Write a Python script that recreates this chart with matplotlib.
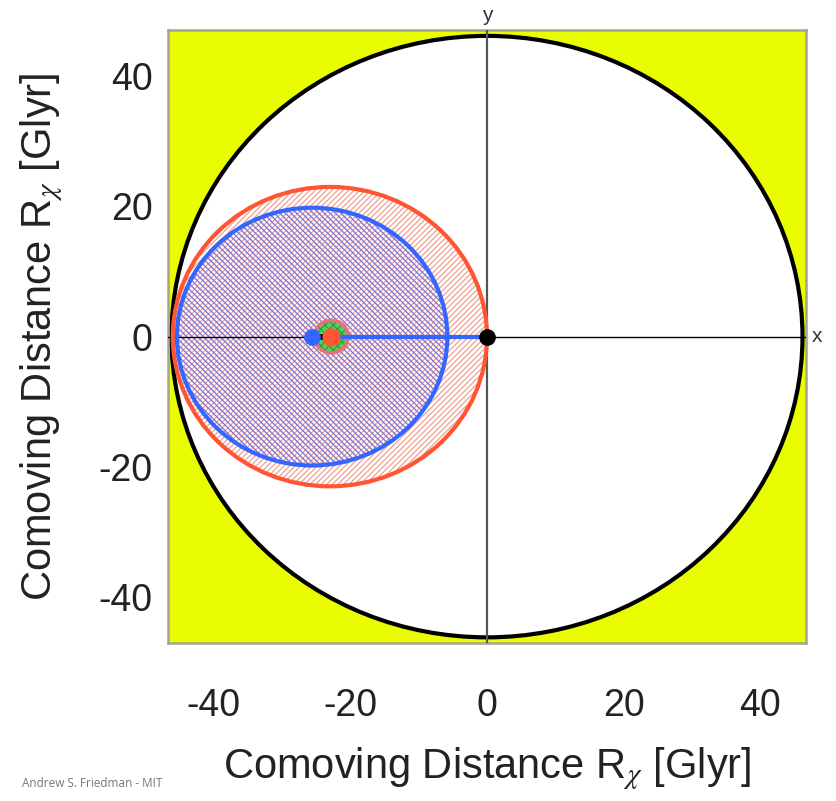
import numpy as np
import matplotlib
matplotlib.use("Agg")
import matplotlib.pyplot as plt
from matplotlib.patches import Circle

# circles: (center x, center y, radius) in Glyr
universe = (0.0, 0.0, 46.2)
red_circle = (-23.0, 0.0, 23.0)
blue_circle = (-25.6, 0.0, 19.8)
green_circle = (-22.8, 0.0, 2.5)

# points along the x axis
blue_dot = (-25.6, 0.0)
red_dot = (-22.8, 0.0)
origin = (0.0, 0.0)

ticks = [-40, -20, 0, 20, 40]
tick_labels = ["-40", "-20", "0", "20", "40"]

plt.rcParams['font.family'] = ['Liberation Sans', 'DejaVu Sans']
plt.rcParams['mathtext.fontset'] = 'stix'
plt.rcParams['hatch.linewidth'] = 0.9

fig = plt.figure(figsize=(8.36, 8.01), dpi=100)
ax = fig.add_axes([0.201, 0.197, 0.763, 0.7655])
ax.set_facecolor('#eafc00')
ax.set_xlim(-46.7, 46.7)
ax.set_ylim(-47.1, 47.1)

# big white universe circle
cx, cy, r = universe
ax.add_patch(Circle((cx, cy), r, facecolor='white', edgecolor='black', lw=3, zorder=1))

# red hatched circle
cx, cy, r = red_circle
ax.add_patch(Circle((cx, cy), r, facecolor='none', edgecolor='#f0a090', lw=0,
                    hatch='//////', zorder=2))
# blue hatched circle
bx, by, br = blue_circle
ax.add_patch(Circle((bx, by), br, facecolor='none', edgecolor='#7a6fd8', lw=0,
                    hatch='\\\\\\\\\\\\', zorder=3))

# axis lines
ax.axhline(0, color='black', lw=1.0, zorder=4)
ax.axvline(0, color='#555555', lw=1.6, zorder=4)

# outlines
ax.add_patch(Circle((cx, cy), r, facecolor='none', edgecolor='#ff5533', lw=3, zorder=5))
ax.add_patch(Circle((bx, by), br, facecolor='none', edgecolor='#3366ff', lw=3, zorder=5))

# small green circle
gx, gy, gr = green_circle
ax.add_patch(Circle((gx, gy), gr, facecolor='#55d060', edgecolor='#3a9a3a', lw=0,
                    hatch='xxxx', zorder=6))
ax.add_patch(Circle((gx, gy), gr, facecolor='none', edgecolor='#e8707a', lw=2.5, zorder=6))

# connecting segments
ax.plot([blue_dot[0], red_dot[0]], [0, 0], color='black', lw=4, zorder=7)
ax.plot([red_dot[0], origin[0]], [0, 0], color='#3366ff', lw=3, zorder=7)

ax.plot(*blue_dot, 'o', color='#3366ff', ms=11, zorder=8)
ax.plot(*red_dot, 'o', color='#ff5533', ms=12, zorder=8)
ax.plot(*origin, 'o', color='black', ms=11, zorder=8)

ax.set_xticks(ticks)
ax.set_xticklabels(tick_labels)
ax.set_yticks(ticks)
ax.set_yticklabels(tick_labels)
ax.tick_params(length=0, labelsize=27, colors='#222222')
ax.tick_params(axis='x', pad=32)
ax.tick_params(axis='y', pad=11)
for s in ax.spines.values():
    s.set_color('#a3a58f')
    s.set_linewidth(1.8)

ax.set_xlabel(r"Comoving Distance R$_{\chi}$ [Glyr]", fontsize=30, color='#222222', labelpad=16)
ax.set_ylabel(r"Comoving Distance R$_{\chi}$ [Glyr]", fontsize=30, color='#222222', labelpad=24)

ax.text(47.6, 0, "x", fontsize=15, color='#333333', va='center', ha='left', clip_on=False)
ax.text(0, 47.8, "y", fontsize=15, color='#333333', va='bottom', ha='center', clip_on=False)

fig.text(0.026, 0.017, "Andrew S. Friedman - MIT", fontsize=8.5, color='#777777',
         family='Open Sans')

fig.savefig("out.png", dpi=100)
